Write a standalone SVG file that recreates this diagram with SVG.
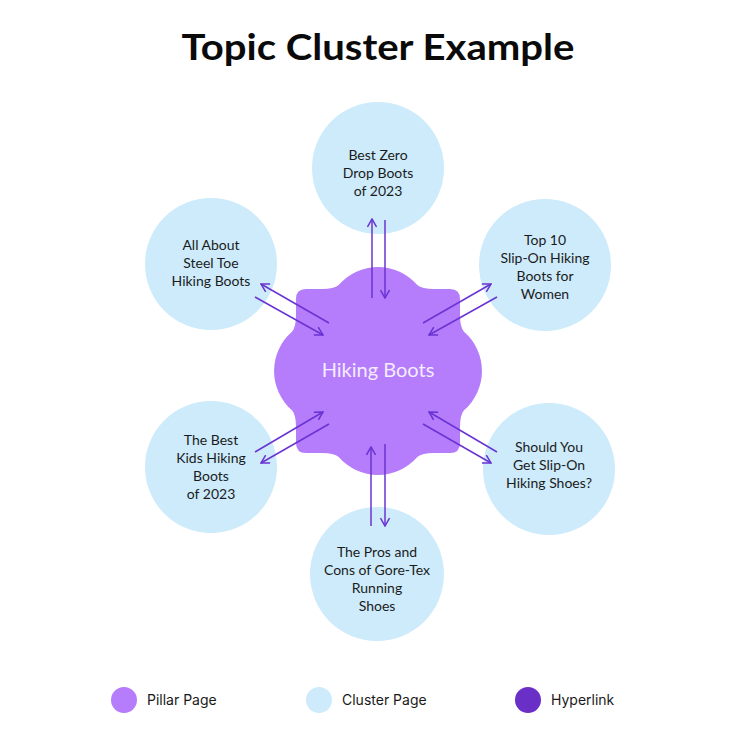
<svg xmlns="http://www.w3.org/2000/svg" width="756" height="736" viewBox="0 0 756 736">
  <style>
    .title { font-family: Lato, "Liberation Sans", sans-serif; font-weight: 700; font-size: 36px; fill: #0a0a0a; text-anchor: middle; }
    .cl { fill: #cdebfb; }
    .ct { font-family: Lato, "Liberation Sans", sans-serif; font-size: 14px; fill: #1b1b1b; text-anchor: middle; }
    .pt { font-family: Lato, "Liberation Sans", sans-serif; font-size: 20px; fill: #f4ecff; text-anchor: middle; }
    .lg { font-family: Inter, "Liberation Sans", sans-serif; font-size: 14px; fill: #1a1a1a; }
    .ar { stroke: #6a34d2; stroke-width: 1.5; fill: none; marker-end: url(#ah); }
  </style>
  <defs>
    <marker id="ah" viewBox="0 0 10 10" refX="9" refY="5" markerWidth="10" markerHeight="10" markerUnits="userSpaceOnUse" orient="auto">
      <path d="M1,0.5 L9,5 L1,9.5" fill="none" stroke="#6a34d2" stroke-width="1.5"/>
    </marker>
  </defs>
  <rect width="756" height="736" fill="#ffffff"/>
  <text class="title" x="378" y="60" textLength="393" lengthAdjust="spacingAndGlyphs">Topic Cluster Example</text>

  <g id="pillar">
    <path transform="translate(378,371)" fill="#b57cfc" d="M -72,-82 L -56,-82 Q -44,-82 -39.3,-86 A 52 52 0 0 1 39.3,-86 Q 44,-82 56,-82 L 72,-82 Q 82,-82 82,-72 L 82,-56 Q 82,-44 86,-39.3 A 52 52 0 0 1 86,39.3 Q 82,44 82,56 L 82,72 Q 82,82 72,82 L 56,82 Q 44,82 39.3,86 A 52 52 0 0 1 -39.3,86 Q -44,82 -56,82 L -72,82 Q -82,82 -82,72 L -82,56 Q -82,44 -86,39.3 A 52 52 0 0 1 -86,-39.3 Q -82,-44 -82,-56 L -82,-72 Q -82,-82 -72,-82 Z"/>
    <text class="pt" x="378" y="377">Hiking Boots</text>
  </g>

  <g id="c-top">
    <circle class="cl" cx="378" cy="168" r="66"/>
    <text class="ct" x="378" y="160">Best Zero</text>
    <text class="ct" x="378" y="178">Drop Boots</text>
    <text class="ct" x="378" y="196">of 2023</text>
  </g>
  <g id="c-topleft">
    <circle class="cl" cx="211" cy="264" r="66"/>
    <text class="ct" x="211" y="250">All About</text>
    <text class="ct" x="211" y="268">Steel Toe</text>
    <text class="ct" x="211" y="286">Hiking Boots</text>
  </g>
  <g id="c-topright">
    <circle class="cl" cx="545" cy="265" r="66"/>
    <text class="ct" x="545" y="245">Top 10</text>
    <text class="ct" x="545" y="263">Slip-On Hiking</text>
    <text class="ct" x="545" y="281">Boots for</text>
    <text class="ct" x="545" y="299">Women</text>
  </g>
  <g id="c-bottomleft">
    <circle class="cl" cx="211" cy="467" r="66"/>
    <text class="ct" x="211" y="445">The Best</text>
    <text class="ct" x="211" y="463">Kids Hiking</text>
    <text class="ct" x="211" y="481">Boots</text>
    <text class="ct" x="211" y="499">of 2023</text>
  </g>
  <g id="c-bottomright">
    <circle class="cl" cx="549" cy="469" r="66"/>
    <text class="ct" x="549" y="452">Should You</text>
    <text class="ct" x="549" y="470">Get Slip-On</text>
    <text class="ct" x="549" y="488">Hiking Shoes?</text>
  </g>
  <g id="c-bottom">
    <circle class="cl" cx="377" cy="574" r="67"/>
    <text class="ct" x="377" y="557">The Pros and</text>
    <text class="ct" x="377" y="575">Cons of Gore-Tex</text>
    <text class="ct" x="377" y="593">Running</text>
    <text class="ct" x="377" y="611">Shoes</text>
  </g>

  <g id="connectors">
    <line class="ar" x1="372" y1="298" x2="372" y2="219"/>
    <line class="ar" x1="385" y1="220" x2="385" y2="298"/>
    <line class="ar" x1="329" y1="323" x2="261" y2="284"/>
    <line class="ar" x1="255" y1="297" x2="323" y2="335"/>
    <line class="ar" x1="423" y1="323" x2="491" y2="284"/>
    <line class="ar" x1="497" y1="297" x2="429" y2="335"/>
    <line class="ar" x1="255" y1="452" x2="323" y2="412"/>
    <line class="ar" x1="329" y1="424" x2="261" y2="463"/>
    <line class="ar" x1="497" y1="452" x2="429" y2="412"/>
    <line class="ar" x1="423" y1="424" x2="491" y2="463"/>
    <line class="ar" x1="371" y1="526" x2="371" y2="447"/>
    <line class="ar" x1="385" y1="444" x2="385" y2="526"/>
  </g>

  <g id="legend">
    <circle cx="124" cy="700" r="13" fill="#b57cfc"/>
    <text class="lg" x="147" y="705">Pillar Page</text>
    <circle cx="319" cy="700" r="13" fill="#cdebfb"/>
    <text class="lg" x="342" y="705">Cluster Page</text>
    <circle cx="528" cy="700" r="13" fill="#6a2fc6"/>
    <text class="lg" x="551" y="705">Hyperlink</text>
  </g>
</svg>
